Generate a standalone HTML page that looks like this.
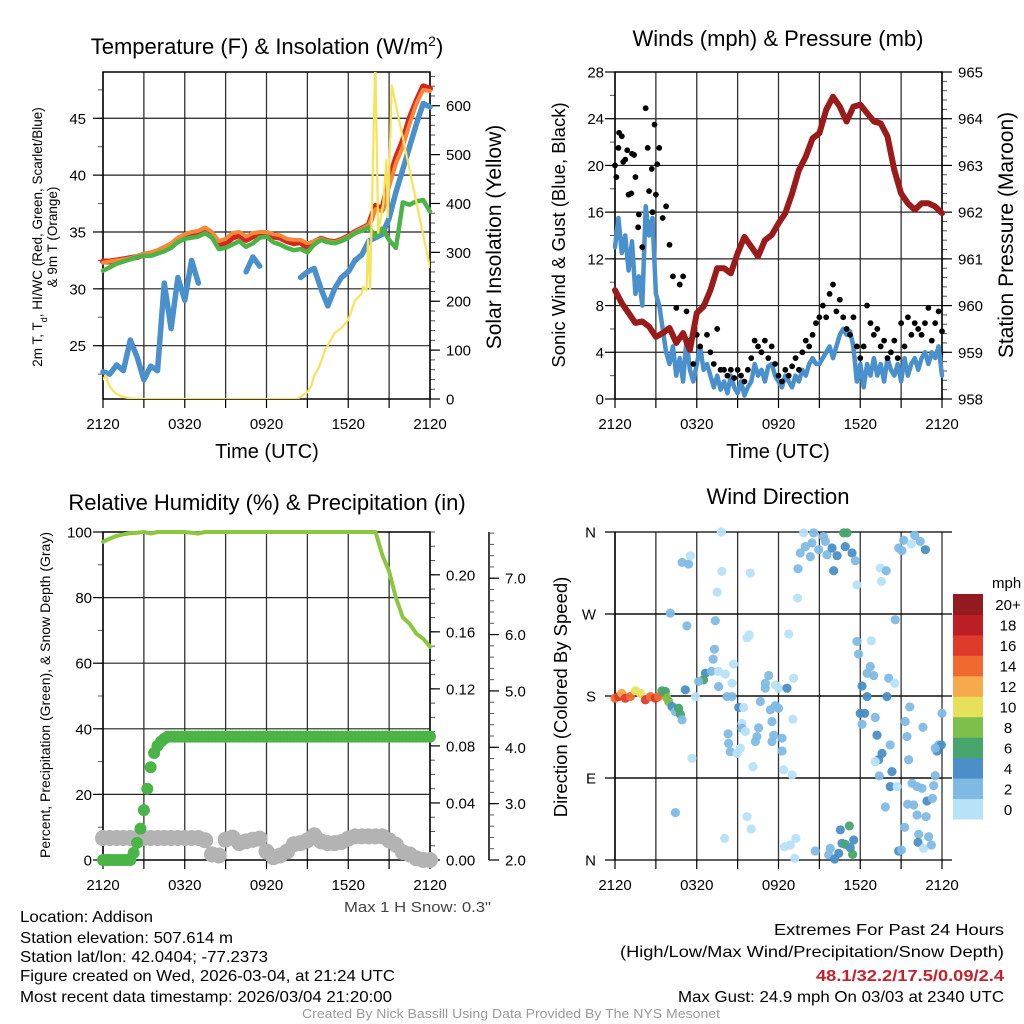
<!DOCTYPE html>
<html><head><meta charset="utf-8"><style>
html,body{margin:0;padding:0;background:#fff}
svg{display:block;font-family:"Liberation Sans",sans-serif}
</style></head><body>
<svg id="chart" width="1024" height="1024" viewBox="0 0 1024 1024" xmlns="http://www.w3.org/2000/svg">
<rect width="1024" height="1024" fill="#fff"/>
<g id="layer"></g>
<text x="267" y="54" font-size="22" text-anchor="middle">Temperature (F) &amp; Insolation (W/m<tspan baseline-shift="super" font-size="14">2</tspan>)</text>
<text x="778" y="46" font-size="22" text-anchor="middle">Winds (mph) &amp; Pressure (mb)</text>
<text x="267" y="510" font-size="22" text-anchor="middle">Relative Humidity (%) &amp; Precipitation (in)</text>
<text x="778" y="504" font-size="22" text-anchor="middle">Wind Direction</text>
<text x="267" y="458" font-size="20" text-anchor="middle">Time (UTC)</text>
<text x="778" y="458" font-size="20" text-anchor="middle">Time (UTC)</text>
<text transform="translate(42,237) rotate(-90)" font-size="13.5" text-anchor="middle">2m T, T<tspan baseline-shift="sub" font-size="9">d</tspan>, HI/WC (Red, Green, Scarlet/Blue)</text>
<text transform="translate(57,237) rotate(-90)" font-size="13.5" text-anchor="middle">&amp; 9m T (Orange)</text>
<text transform="translate(501,237) rotate(-90)" font-size="21" text-anchor="middle">Solar Insolation (Yellow)</text>
<text transform="translate(565,235) rotate(-90)" font-size="18.5" text-anchor="middle">Sonic Wind &amp; Gust (Blue, Black)</text>
<text transform="translate(1013,235) rotate(-90)" font-size="21" text-anchor="middle">Station Pressure (Maroon)</text>
<text transform="translate(50,695) rotate(-90)" font-size="14" text-anchor="middle">Percent, Precipitation (Green), &amp; Snow Depth (Gray)</text>
<text transform="translate(567,697) rotate(-90)" font-size="18.5" text-anchor="middle">Direction (Colored By Speed)</text>
<text x="344" y="912" font-size="15" fill="#444" textLength="147" lengthAdjust="spacingAndGlyphs">Max 1 H Snow: 0.3"</text>
<g font-size="16">
<text x="20" y="922" textLength="133" lengthAdjust="spacingAndGlyphs">Location: Addison</text>
<text x="20" y="943" textLength="213" lengthAdjust="spacingAndGlyphs">Station elevation: 507.614 m</text>
<text x="20" y="962" textLength="248" lengthAdjust="spacingAndGlyphs">Station lat/lon: 42.0404; -77.2373</text>
<text x="20" y="981" textLength="375" lengthAdjust="spacingAndGlyphs">Figure created on Wed, 2026-03-04, at 21:24 UTC</text>
<text x="20" y="1002" textLength="372" lengthAdjust="spacingAndGlyphs">Most recent data timestamp: 2026/03/04 21:20:00</text>
</g>
<g font-size="16">
<text x="774" y="935" textLength="230" lengthAdjust="spacingAndGlyphs">Extremes For Past 24 Hours</text>
<text x="620" y="957" textLength="384" lengthAdjust="spacingAndGlyphs">(High/Low/Max Wind/Precipitation/Snow Depth)</text>
<text x="816" y="981" fill="#c8202a" font-weight="bold" textLength="188" lengthAdjust="spacingAndGlyphs">48.1/32.2/17.5/0.09/2.4</text>
<text x="678" y="1002" textLength="326" lengthAdjust="spacingAndGlyphs">Max Gust: 24.9 mph On 03/03 at 2340 UTC</text>
</g>
<text x="302" y="1018" font-size="13" fill="#999" textLength="418" lengthAdjust="spacingAndGlyphs">Created By Nick Bassill Using Data Provided By The NYS Mesonet</text>
</svg>
<script>
const timeTicks=["2120","0320","0920","1520","2120"];
const tempHalfHour=[32.4,32.4,32.5,32.6,32.7,32.8,33.0,33.0,33.2,33.5,33.8,34.3,34.6,34.8,34.9,35.2,34.8,33.9,34.0,34.5,34.7,34.3,34.6,34.8,34.9,34.6,34.5,34.2,34.0,34.1,33.6,34.1,34.4,34.2,34.1,34.3,34.6,35.0,35.3,35.6,37.3,37.0,39.5,41.5,43.0,45.0,46.5,47.8,47.6];
const temp9mHalfHour=[32.3,32.4,32.5,32.6,32.7,32.9,33.1,33.2,33.4,33.7,34.0,34.5,34.8,35.0,35.1,35.4,35.0,34.2,34.4,34.9,35.0,34.6,34.9,35.0,35.0,34.8,34.7,34.4,34.3,34.3,34.0,34.2,34.4,34.2,34.1,34.3,34.6,35.0,35.3,35.6,37.0,36.8,39.0,41.0,42.5,44.5,46.3,47.5,47.4];
const windChillHalfHour=[31.6,31.9,32.2,32.4,32.6,32.8,32.9,32.9,33.1,33.3,33.6,34.1,34.4,34.5,34.6,34.9,34.5,33.5,33.6,33.9,34.2,33.7,34.0,34.5,34.6,34.1,33.9,33.6,33.4,33.5,33.2,33.9,34.3,34.1,34.0,34.2,34.5,34.9,35.1,35.4,34.6,35.3,34.3,33.6,37.6,37.4,37.7,37.8,36.8];
const dewpointHalfHour=[22.7,22.5,23.3,22.8,25.5,24.0,22.0,23.2,22.8,30.5,26.5,31.0,29.0,32.5,30.5,null,null,null,null,null,null,31.5,32.8,32.0,null,null,null,null,null,31.0,31.5,31.8,30.0,28.5,30.0,31.0,31.5,32.5,33.0,34.2,34.5,34.8,36.2,38.5,40.5,42.5,44.5,46.3,46.0];
const solarTimes=[0,0.2,0.4,0.7,1,1.5,2,3,6,9,12,14.2,14.5,14.8,15.0,15.3,15.5,15.8,16.0,16.3,16.6,17.0,17.5,18.0,18.5,19.0,19.1,19.35,19.45,19.6,19.96,20.0,20.2,20.57,20.8,20.9,21.2,24];
const solarValues=[40,48,30,18,10,4,1,0,0,0,0,0,4,10,14,28,48,62,76,100,115,135,145,162,202,216,230,223,325,225,669,669,340,400,489,372,642,270];
const windQuarterHour=[13,15.5,12.5,14,11,13.5,9,10.5,8,16.5,14,15.5,9,8,6,4,3,4.5,2,3.5,1.5,5,2.5,1.5,3,4.5,2.5,3,2,1,2,0.8,1.5,0.5,2,1,0.5,1.5,0.3,1,1.5,3,2,2.5,1.5,2.8,3,2,1.5,1,2,1.5,1,2,1.5,2.5,2,3,3.5,3,3,3.5,4,4.5,3.5,4.5,5.5,6,5.5,5.8,4.5,1.5,3,1,3,2,3.5,2,3,1.5,3.5,2.5,2,3,1.5,3.5,2,3,3.5,2.5,3.5,4,3,4,3.5,4.5,2];
const gustQuarterHour=[20,21.5,22.5,20.5,17.5,21,19,15.8,13,24.9,17.8,16,17.5,21.5,15.5,16.5,13.2,10.5,7.8,9.8,10.5,7.5,5,3,5.5,4.5,8,5.5,4,3,6,2.5,2.5,2,2.5,1.8,2.5,2,1.5,2.5,3.5,5,4.5,4,5,3.5,4.5,3,2,1.5,2.5,2,2.8,3.5,2.5,4,5,4.5,5.5,6.5,7,8,7,9,9.8,7.5,8.5,7,6,5.5,7,4.5,3.5,4.5,8,6.5,5.5,6,4.5,5,3.5,4,5,3.5,6.5,4.5,7,5.5,6.5,6,5.5,6.5,7.8,5,6.5,7.5,5.8];
const gustExtraTimes=[0.3,0.6,0.9,1.2,1.4,1.7,2.4,2.7,2.9,3.1,0.1,1.0];
const gustExtraValues=[22.8,20.3,21.3,17.6,20.9,14.7,21.5,19.7,23.5,20.1,19,17.5];
const pressureHalfHour=[960.33,960.05,959.84,959.63,959.66,959.55,959.33,959.41,959.52,959.2,959.41,959.05,959.84,959.98,960.33,960.8,960.8,960.69,961.12,961.47,961.26,961.05,961.4,961.51,961.76,961.98,962.4,962.9,963.19,963.58,963.69,964.19,964.47,964.26,963.94,964.26,964.3,964.12,963.94,963.9,963.62,962.9,962.4,962.19,962.05,962.19,962.19,962.12,961.98];
const rhHalfHour=[97,98,98.8,99.3,99.6,99.8,100,99.5,100,100,100,100,100,99.8,99.5,100,100,100,100,100,100,100,100,100,100,100,100,100,100,100,100,100,100,100,100,100,100,100,100,100,100,93,88,80,74,72,69,67.5,65];
const precipQuarterHour=[0,0,0,0,0,0,0,0,0,0.005,0.012,0.022,0.035,0.05,0.065,0.075,0.08,0.083,0.085,0.0865,0.0865,0.0865,0.0865,0.0865,0.0865,0.0865,0.0865,0.0865,0.0865,0.0865,0.0865,0.0865,0.0865,0.0865,0.0865,0.0865,0.0865,0.0865,0.0865,0.0865,0.0865,0.0865,0.0865,0.0865,0.0865,0.0865,0.0865,0.0865,0.0865,0.0865,0.0865,0.0865,0.0865,0.0865,0.0865,0.0865,0.0865,0.0865,0.0865,0.0865,0.0865,0.0865,0.0865,0.0865,0.0865,0.0865,0.0865,0.0865,0.0865,0.0865,0.0865,0.0865,0.0865,0.0865,0.0865,0.0865,0.0865,0.0865,0.0865,0.0865,0.0865,0.0865,0.0865,0.0865,0.0865,0.0865,0.0865,0.0865,0.0865,0.0865,0.0865,0.0865,0.0865,0.0865,0.0865,0.0865,0.0865];
const snowHalfHour=[2.39,2.39,2.39,2.39,2.39,2.39,2.39,2.39,2.39,2.39,2.39,2.39,2.39,2.39,2.39,2.35,2.1,2.08,2.36,2.4,2.3,2.33,2.36,2.38,2.15,2.05,2.08,2.15,2.28,2.3,2.35,2.44,2.33,2.3,2.3,2.32,2.38,2.42,2.42,2.42,2.42,2.42,2.35,2.27,2.14,2.1,2.03,2.0,2.0];
const dirTimes=[0,0.27,0.5,0.76,1.13,1.5,1.86,2.23,2.6,2.96,3.2,3.45,3.7,3.82,3.94,4.18,4.43,4.67,4.8,4.92,5.16,5.65,5.9,4.43,4.06,5.28,4.92,5.4,5.53,7.8,7.85,7.5,7.36,7.3,7.2,6.63,6.5,6.14,7.07,7.6,8.1,7.6,8.22,8.59,8.7,8.59,8.3,8.34,8.46,8.95,9.08,9.44,9.32,9.32,9.57,9.2,10.13,9.69,10,8.05,9.69,9.86,9.93,10.54,10.42,10.3,10.67,11.03,11.03,11.28,11.77,12,11.4,11.52,11.65,11.52,11.77,12,12.26,12.26,12.62,13.11,13.06,12.38,13,12.45,12.87,13.28,13.19,12.75,13.4,13.43,13.6,13.85,13.97,14.34,14.58,14.46,14.95,15.3,15.44,15.56,15.93,16.3,16.05,16.78,17.03,16.9,17.4,17.64,17.76,14.7,15.68,15.8,16.12,16.42,16.54,16.66,16.9,17.2,17.27,17.52,17.44,17.76,17.88,18.13,18.5,18,18.32,18.13,18.74,18.5,18.98,18.81,19.1,19.23,19.6,19.35,19.1,20.2,20.09,19.96,20.53,20.57,20.33,19.4,20.2,20.7,19.84,19.47,19.55,19.91,20.82,21.06,21.19,21.75,22,22.4,22.78,21.63,21.3,21.43,21.55,22.6,21.8,22.17,22.53,21.48,21.92,22.17,22.83,22.9,23.3,22.29,23.02,22.24,22.65,23.22,20.82,21.02,21.26,23.5,23.39,23.76,23.63,23.95,24,23.5];
const dirDegrees=[177.6,179.4,183,177.6,179.4,185.7,183,175.8,179.4,177.6,179.4,185.7,185,177.6,174,168.5,163,166.6,160,153.8,186.8,111.7,179.4,52,271,257,326.6,324.8,334,360,316.8,294,262.6,231.4,220.5,205,197.7,196,207,207,204,190.4,179.4,179.4,215,194,138.4,128,119,117,167.4,167.4,150,144.6,141,122.7,102.5,47.6,34,23.8,244,247,315,145,135.5,130,174,188.6,194,202.5,192,188.6,164.8,152,137,130,169.5,166.6,133.7,119.7,188.6,199.6,154.5,98.9,93.4,14.6,16.5,23.8,1.8,248,287.5,319.7,337,359,344,333,359,348,340.6,355,349.7,335,342.4,334,317.5,359,359,344,337,328.5,302,9.9,5.5,12.8,1.1,7.3,33,18.3,17.2,37.4,13.5,22,6.2,239.9,226,191,179.4,161,161,149,212.4,205,202.5,240.6,156.4,137,117,110,108,126.3,199.6,179.4,194,263.7,97,92.3,80.6,80.6,58.2,320.4,305.8,317.5,342.4,339.5,351,346.8,356.3,349.7,340.6,168,152,135.5,110,145.7,84.2,80.6,78.7,61.2,60.4,49.4,47.6,64.8,67.7,28.2,25.6,19.4,12.8,16.5,9.9,11,35.9,92.6,81.7,126.3,119.7,126.3,161,122.7];
const dirSpeeds=[15,17,13,17,15,11,11,17,15,17,15,7,7,9,9,5,3,7,7,3,5,1,1,3,3,3,3,3,1,1,1,1,3,3,3,5,7,3,3,1,1,3,3,3,1,1,3,3,3,1,5,1,1,3,1,1,1,1,1,1,1,1,1,3,3,3,3,3,3,3,1,1,3,3,3,3,3,3,3,3,5,1,1,1,1,1,1,1,1,1,1,3,3,1,3,3,3,3,3,3,3,3,5,5,5,7,7,5,5,3,1,3,3,3,5,5,5,5,7,7,5,5,7,3,3,5,5,5,5,3,3,3,3,1,3,5,5,5,1,3,3,5,1,3,5,3,5,1,3,1,1,3,3,3,3,1,3,3,5,3,3,3,3,3,3,3,3,3,3,3,3,5,3,3,3,5,1,3,5,3,3,3,3,3,5,5,3,3,5];
const speedBinLabels=["0","2","4","6","8","10","12","14","16","18","20+"];
const speedBinColors=["#b7e2f8","#7fbae4","#4a8fc7","#48a56c","#7cc04b","#e7e05b","#f6aa4b","#f06a30","#de3b2b","#bd1e25","#931a1e"];

const NS="http://www.w3.org/2000/svg";
const layer=document.getElementById('layer');
function mk(tag,attrs,parent){const e=document.createElementNS(NS,tag);for(const k in attrs)e.setAttribute(k,attrs[k]);(parent||layer).appendChild(e);return e;}
function scaleX(p,t){return p.x0+t/24*(p.x1-p.x0);}
function scaleY(p,v,lo,hi){return p.y1-(v-lo)/(hi-lo)*(p.y1-p.y0);}
const P1={x0:103,x1:430,y0:72,y1:399},P2={x0:615,x1:942,y0:72,y1:399},P3={x0:103,x1:430,y0:532,y1:860},P4={x0:615,x1:942,y0:532,y1:860};

function frame(p,name,labelY){
  const g=mk('g',{});
  
  
  for(let i=0;i<=8;i++){const x=scaleX(p,i*3);mk('line',{x1:x,y1:p.y0,x2:x,y2:p.y1,stroke:'#333','stroke-width':1.3},g);mk('line',{x1:x,y1:p.y1,x2:x,y2:p.y1+9,stroke:'#000','stroke-width':1.2},g);}
  timeTicks.forEach((s,i)=>{const t=mk('text',{x:scaleX(p,i*6),y:labelY,'font-size':15,'text-anchor':'middle'},g);t.textContent=s;
    
    });
  return g;
}
function yAxis(p,g,lo,hi,major,minor,side,labels,fmt,ax){
  const x=ax!==undefined?ax:(side==='left'?p.x0:p.x1);const dir=side==='left'?-1:1;
  for(let v=lo;v<=hi+1e-9;v+=minor){const y=scaleY(p,v,lo,hi);mk('line',{x1:x,y1:y,x2:x+dir*5,y2:y,stroke:'#555','stroke-width':1},g);}
  labels.forEach(v=>{const y=scaleY(p,v,lo,hi);mk('line',{x1:x,y1:y,x2:x+dir*10,y2:y,stroke:'#000','stroke-width':1.2},g);
    const t=mk('text',{x:x+dir*(side==='left'?11:16),y:y+5.5,'font-size':15,'text-anchor':side==='left'?'end':'start'},g);t.textContent=fmt(v);
    
    });
}
function hgrid(p,g,vals,lo,hi){vals.forEach(v=>{const y=scaleY(p,v,lo,hi);mk('line',{x1:p.x0,y1:y,x2:p.x1,y2:y,stroke:'#222','stroke-width':1.2},g);});}
function border(p,g){mk('rect',{x:p.x0,y:p.y0,width:p.x1-p.x0,height:p.y1-p.y0,fill:'none',stroke:'#000','stroke-width':1.5},g);}
function poly(p,times,vals,lo,hi,color,w,name){
  let d='',pen=false;
  vals.forEach((v,i)=>{if(v===null){pen=false;return;}
    d+=(pen?'L':'M')+scaleX(p,times[i]).toFixed(1)+','+scaleY(p,v,lo,hi).toFixed(1)+' ';pen=true;});
  const e=mk('path',{d:d,fill:'none',stroke:color,'stroke-width':w,'stroke-linejoin':'round','stroke-linecap':'round'});
  
  
  return e;
}
function dots(p,times,vals,lo,hi,color,r,name){
  const g=mk('g',{fill:color});
  
  
  vals.forEach((v,i)=>mk('circle',{cx:scaleX(p,times[i]),cy:scaleY(p,v,lo,hi),r:r},g));
  return g;
}
const halfT=tempHalfHour.map((_,i)=>i*0.5);
const quarterT=windQuarterHour.map((_,i)=>i*0.25);

// Panel 1
const TLO=20.31,THI=49.07,SLO=0,SHI=669;
let g1=frame(P1,'temperature',429);
hgrid(P1,g1,[25,30,35,40,45],TLO,THI);
{const g=g1;const lo=TLO,hi=THI;for(let v=22.5;v<=47.5;v+=2.5){const y=scaleY(P1,v,lo,hi);mk('line',{x1:P1.x0,y1:y,x2:P1.x0-5,y2:y,stroke:'#555'},g);}
[25,30,35,40,45].forEach(v=>{const y=scaleY(P1,v,lo,hi);mk('line',{x1:P1.x0,y1:y,x2:P1.x0-10,y2:y,stroke:'#000','stroke-width':1.2},g);const t=mk('text',{x:P1.x0-17,y:y+5.5,'font-size':15,'text-anchor':'end'},g);t.textContent=v;

});}
yAxis(P1,g1,SLO,SHI,100,20,'right',[0,100,200,300,400,500,600],v=>v);
poly(P1,halfT,dewpointHalfHour,TLO,THI,'#4a90cc',5.5,'dewpoint-line');
poly(P1,halfT,tempHalfHour,TLO,THI,'#d7261e',6,'temperature-line');
poly(P1,halfT,temp9mHalfHour,TLO,THI,'#f5883a',4,'temp-9m-line');
poly(P1,halfT,windChillHalfHour,TLO,THI,'#4cb446',4.5,'windchill-line');
const clip=mk('clipPath',{id:'c1'});mk('rect',{x:P1.x0,y:P1.y0,width:327,height:327},clip);
poly(P1,solarTimes,solarValues,SLO,SHI,'#f7e35a',2.2,'solar-line').setAttribute('clip-path','url(#c1)');
border(P1,g1);

// Panel 2
const WLO=0,WHI=28,PLO=958,PHI=965;
let g2=frame(P2,'wind',429);
hgrid(P2,g2,[4,8,12,16,20,24],WLO,WHI);
yAxis(P2,g2,WLO,WHI,4,2,'left',[0,4,8,12,16,20,24,28],v=>v);
yAxis(P2,g2,PLO,PHI,1,0.2,'right',[958,959,960,961,962,963,964,965],v=>Math.round(v));
poly(P2,quarterT,windQuarterHour,WLO,WHI,'#4a90cc',4.5,'sonic-wind-line');
dots(P2,quarterT,gustQuarterHour,WLO,WHI,'#000',2.9,'gust-dots');
dots(P2,gustExtraTimes,gustExtraValues,WLO,WHI,'#000',2.9,'gust-dots-extra');
poly(P2,halfT,pressureHalfHour,PLO,PHI,'#9b1a1a',6,'pressure-line');
border(P2,g2);

// Panel 3
const RLO=0,RHI=100,PRLO=0,PRHI=0.23,SNLO=2.0,SNHI=7.82;
let g3=frame(P3,'humidity',890);
hgrid(P3,g3,[20,40,60,80],RLO,RHI);
yAxis(P3,g3,RLO,RHI,20,10,'left',[0,20,40,60,80,100],v=>v);
yAxis(P3,g3,PRLO,PRHI,0.04,0.01,'right',[0,0.04,0.08,0.12,0.16,0.20],v=>v.toFixed(2));
mk('line',{x1:489,y1:P3.y0,x2:489,y2:P3.y1,stroke:'#000','stroke-width':1.5},g3);
yAxis(P3,g3,SNLO,SNHI,1,0.2,'right',[2,3,4,5,6,7],v=>v.toFixed(1),489);
dots(P3,halfT,snowHalfHour,SNLO,SNHI,'#b3b3b3',8,'snow-depth-dots');
dots(P3,quarterT,precipQuarterHour,PRLO,PRHI,'#4bb446',6,'precip-dots');
poly(P3,halfT,rhHalfHour,RLO,RHI,'#8cc63f',4,'rh-line');
border(P3,g3);

// Panel 4
let g4=frame(P4,'direction',890);
hgrid(P4,g4,[90,180,270],0,360);
["N","E","S","W","N"].forEach((s,i)=>{const y=scaleY(P4,i*90,0,360);mk('line',{x1:P4.x0-10,y1:y,x2:P4.x1+10,y2:y,stroke:'#000','stroke-width':1.2},g4);const t=mk('text',{x:P4.x0-19,y:y+5.5,'font-size':15,'text-anchor':'end'},g4);t.textContent=s;

});
{const g=mk('g',{});


dirTimes.forEach((t,i)=>{const b=Math.min(10,Math.floor(dirSpeeds[i]/2));mk('circle',{cx:scaleX(P4,t),cy:scaleY(P4,dirDegrees[i],0,360),r:4.6,fill:speedBinColors[b],opacity:0.95},g);});}
mk('line',{x1:P4.x0,y1:P4.y0,x2:P4.x0,y2:P4.y1,stroke:'#000','stroke-width':1.5},g4);
// Legend
{const g=mk('g',{});


const t0=mk('text',{x:992,y:588,'font-size':15},g);t0.textContent='mph';
const top=594,bh=(819-594)/11;
speedBinLabels.forEach((s,i)=>{const y=top+(10-i)*bh;mk('rect',{x:953,y:y,width:30,height:bh+0.5,fill:speedBinColors[i]},g);
const t=mk('text',{x:1008,y:y+bh/2+6,'font-size':15,'text-anchor':'middle'},g);t.textContent=s;

});}
</script>
</body></html>
